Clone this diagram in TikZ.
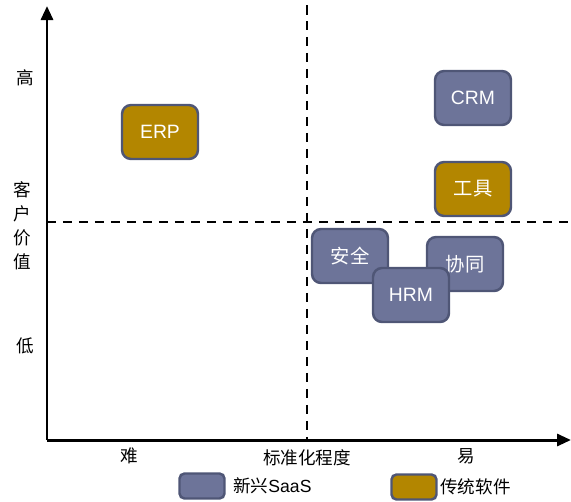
\documentclass[tikz,border=0pt]{standalone}
\usepackage{fontspec}
\setmainfont{Noto Sans CJK SC}
\newfontfamily\latin{Liberation Sans}
\usepackage{tikz}
\usetikzlibrary{arrows.meta}
\definecolor{saasblue}{HTML}{6D7499}
\definecolor{saasedge}{HTML}{4F5676}
\definecolor{oldgold}{HTML}{B38600}
\tikzset{
  card/.style={draw=saasedge,line width=1.4pt,rounded corners=0.18cm,
    minimum width=1.52cm,minimum height=1.08cm,text=white,font=\fontsize{11pt}{13pt}\selectfont},
  newcard/.style={card,fill=saasblue},
  oldcard/.style={card,fill=oldgold},
  keybox/.style={draw=saasedge,line width=1.4pt,rounded corners=0.1cm,
    minimum width=0.9cm,minimum height=0.5cm},
  lbl/.style={font=\fontsize{10pt}{12pt}\selectfont,inner sep=0pt},
  axis/.style={line width=1.7pt,-{Triangle[length=0.28cm,width=0.24cm]}},
  split/.style={line width=1.3pt,dash pattern=on 0.19cm off 0.13cm}
}
\begin{document}
\begin{tikzpicture}[x=0.02cm,y=-0.02cm]
\useasboundingbox (0,0) rectangle (571,501);
\draw[split] (307,5) -- (307,440);
\draw[split] (47,222) -- (571,222);
\draw[axis] (47,440) -- (47,6);
\draw[axis] (47,440) -- (571,440);
\node[lbl] (hi) at (25,78) {高};
\node[lbl] (v1) at (22,190) {客};
\node[lbl] (v2) at (22,214) {户};
\node[lbl] (v3) at (22,238) {价};
\node[lbl] (v4) at (22,262) {值};
\node[lbl] (lo) at (25,346) {低};
\node[lbl] (hard) at (129,456) {难};
\node[lbl] (std) at (307,458) {标准化程度};
\node[lbl] (easy) at (466,456) {易};
\node[oldcard] (erp) at (160,132) {\latin ERP};
\node[newcard] (crm) at (473,98) {\latin CRM};
\node[oldcard] (tool) at (473,189) {工具};
\node[newcard] (collab) at (465,264) {协同};
\node[newcard] (safe) at (350,256) {安全};
\node[newcard] (hrm) at (411,295) {\latin HRM};
\node[keybox,fill=saasblue] (knew) at (202,486) {};
\node[lbl,anchor=west] at (233,486) {新兴{\latin SaaS}};
\node[keybox,fill=oldgold] (kold) at (414,487) {};
\node[lbl,anchor=west] at (440,487) {传统软件};
\end{tikzpicture}
\end{document}
